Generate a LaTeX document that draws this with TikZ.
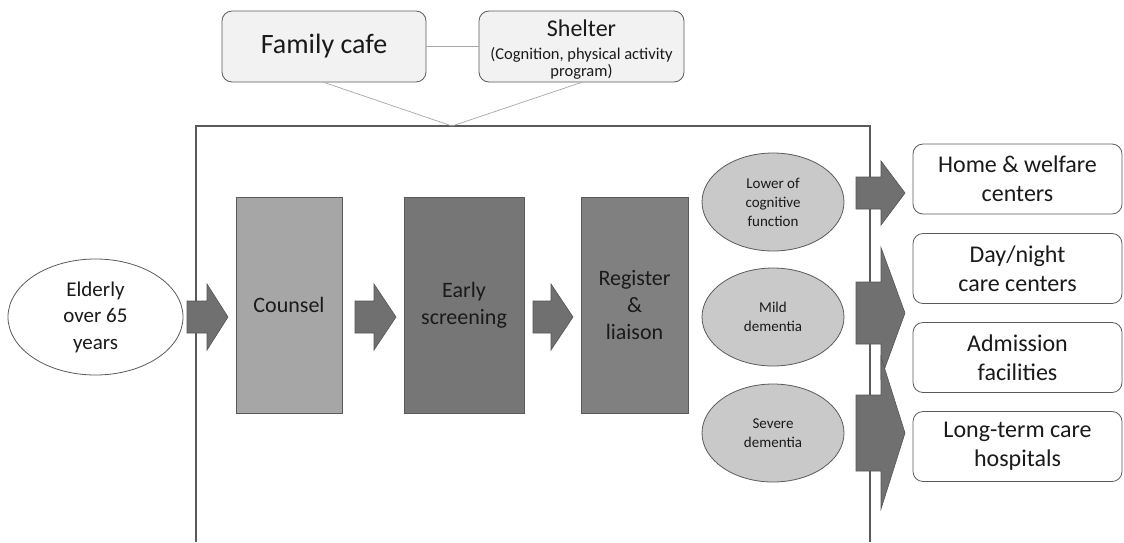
\documentclass[tikz,border=0pt]{standalone}
\usepackage{fontspec}
\usetikzlibrary{shapes.geometric}
\setmainfont{Carlito}
\definecolor{arrowfill}{HTML}{707070}
\definecolor{arrowline}{HTML}{555555}
\definecolor{ellfill}{HTML}{C9C9C9}
\definecolor{boxline}{HTML}{5A5A5A}
\definecolor{counselfill}{HTML}{A6A6A6}
\definecolor{earlyfill}{HTML}{767676}
\definecolor{regfill}{HTML}{808080}
\definecolor{topfill}{HTML}{F2F2F2}
\definecolor{txt}{HTML}{1A1A1A}
\newcommand{\blkarrow}[6]{%
  \draw[blkarrowstyle] (#1,{#4-#5}) -- (#2,{#4-#5}) -- (#2,{#4-#6}) -- (#3,#4) -- (#2,{#4+#6}) -- (#2,{#4+#5}) -- (#1,{#4+#5}) -- cycle;}
\begin{document}
\begin{tikzpicture}[x=1pt,y=-1pt,
  every node/.style={text=txt,align=center,inner sep=0pt},
  blkarrowstyle/.style={fill=arrowfill,draw=arrowline,line width=0.6pt,line join=miter},
  topbox/.style={draw=boxline,fill=topfill,rounded corners=10pt,line width=0.8pt},
  rightbox/.style={draw=boxline,fill=white,rounded corners=10pt,line width=0.8pt,minimum width=209pt,minimum height=70pt,font=\fontsize{24}{29}\selectfont},
  stagebox/.style={draw=boxline,line width=0.6pt,minimum height=216pt,font=\fontsize{22}{27}\selectfont},
  levelell/.style={ellipse,draw=boxline,fill=ellfill,line width=0.8pt,minimum width=142pt,minimum height=98pt,font=\fontsize{15}{19}\selectfont},
  thinlink/.style={draw=gray!70,line width=0.7pt}]
\useasboundingbox (0,0) rectangle (1124,542);
% big frame
\draw[boxline,line width=1.1pt] (196,542) -- (196,126) -- (870,126) -- (870,542);
% top boxes
\node[topbox,minimum width=204pt,minimum height=71pt,font=\fontsize{28}{32}\selectfont] (cafe) at (324,46.5) {Family cafe};
\node[topbox,minimum width=205pt,minimum height=71pt] (shelter) at (581.5,46.5) {};
\node[font=\fontsize{24}{28}\selectfont] (sheltertitle) at (581.5,28) {Shelter};
\node[font=\fontsize{16.5}{17}\selectfont] (sheltersub) at (581.5,63.5) {(Cognition, physical activity\\program)};
\coordinate (apex) at (452,126);
\draw[thinlink] (cafe.east) -- (shelter.west);
\draw[thinlink] (cafe.south) -- (apex);
\draw[thinlink] (shelter.south) -- (apex);
% elderly
\node[ellipse,draw=boxline,fill=white,line width=0.8pt,minimum width=175pt,minimum height=116pt,font=\fontsize{21}{26.5}\selectfont] (elderly) at (95.5,317) {Elderly\\over 65\\years};
% stages
\node[stagebox,fill=counselfill,minimum width=106pt] (counsel) at (289,305) {Counsel};
\node[stagebox,fill=earlyfill,minimum width=120pt] (early) at (464,305) {Early\\screening};
\node[stagebox,fill=regfill,minimum width=107pt] (register) at (634.5,305) {Register\\\&\\liaison};
% left arrows
\blkarrow{187}{207}{228}{317}{16}{33}
\blkarrow{355}{374}{396}{317}{16}{33}
\blkarrow{533}{551}{573}{317}{16}{33}
% levels
\node[levelell] (lower) at (773,202) {Lower of\\cognitive\\function};
\node[levelell] (mild) at (773,317) {Mild\\dementia};
\node[levelell] (severe) at (773,433) {Severe\\dementia};
% right arrows
\blkarrow{856}{881}{905}{193}{16}{32}
\blkarrow{856}{881}{905}{313}{31}{65.5}
\blkarrow{856}{881}{905}{433}{38}{76}
% outcomes
\node[rightbox] (home) at (1017.5,179) {Home \& welfare\\centers};
\node[rightbox] (day) at (1017.5,268.5) {Day/night\\care centers};
\node[rightbox] (adm) at (1017.5,357.5) {Admission\\facilities};
\node[rightbox] (long) at (1017.5,446.5) {Long-term care\\hospitals};
\end{tikzpicture}
\end{document}
